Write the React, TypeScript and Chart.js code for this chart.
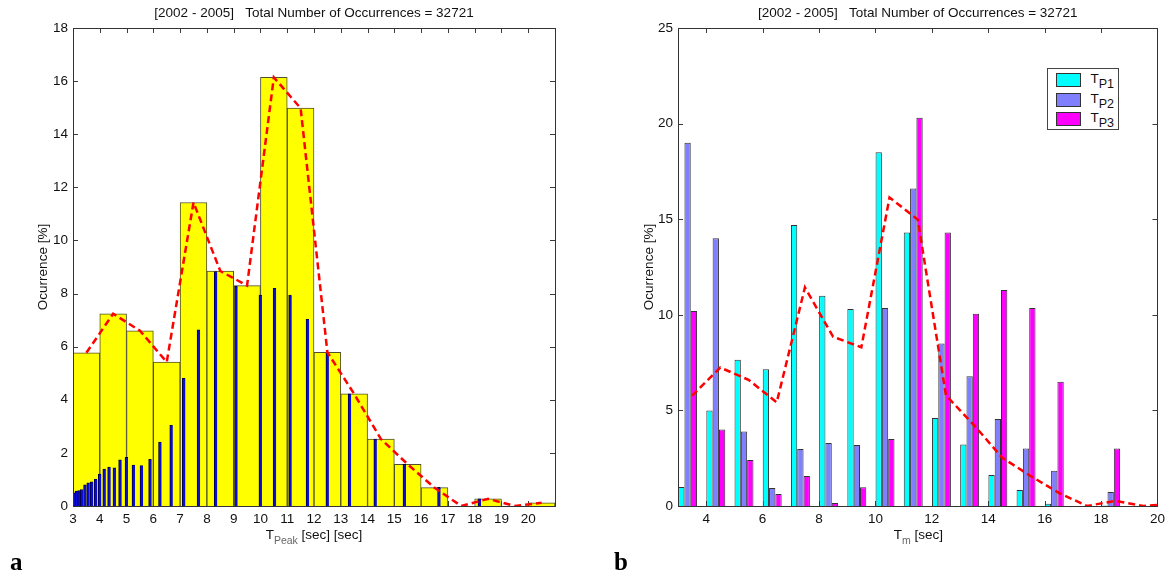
import React, { useEffect, useRef } from 'react';
import { Chart, registerables } from 'chart.js';

Chart.register(...registerables);

// ---------- data ----------
const chartTitle = '[2002 - 2005]   Total Number of Occurrences = 32721';

// panel a: histogram of T_Peak in 1-s bins (bin centres)
const periodBinCenters = [3.5, 4.5, 5.5, 6.5, 7.5, 8.5, 9.5, 10.5, 11.5, 12.5, 13.5, 14.5, 15.5, 16.5, 17.5, 18.5, 19.5, 20.5];
const binOccurrence = [5.77, 7.24, 6.6, 5.42, 11.43, 8.85, 8.3, 16.14, 14.98, 5.79, 4.22, 2.52, 1.57, 0.69, 0.0, 0.27, 0.0, 0.12];

// panel a: occurrence per spectral period (thin blue bars)
const spectralPeriods = [3.03, 3.13, 3.23, 3.33, 3.45, 3.57, 3.7, 3.85, 4.0, 4.17, 4.35, 4.55, 4.76, 5.0, 5.26, 5.56, 5.88, 6.25, 6.67, 7.14, 7.69, 8.33, 9.09, 10.0, 10.53, 11.11, 11.76, 12.5, 13.33, 14.29, 15.38, 16.67, 18.18];
const spectralOccurrence = [0.5, 0.56, 0.58, 0.62, 0.8, 0.87, 0.91, 1.0, 1.2, 1.39, 1.47, 1.44, 1.74, 1.83, 1.54, 1.52, 1.76, 2.41, 3.04, 4.81, 6.63, 8.83, 8.28, 7.94, 8.2, 7.94, 7.03, 5.77, 4.22, 2.52, 1.57, 0.7, 0.27];

const xTicksA = [3, 4, 5, 6, 7, 8, 9, 10, 11, 12, 13, 14, 15, 16, 17, 18, 19, 20];
const yTicksA = [0, 2, 4, 6, 8, 10, 12, 14, 16, 18];

// panel b: grouped bars per T_m bin
const tmBins = [3, 4, 5, 6, 7, 8, 9, 10, 11, 12, 13, 14, 15, 16, 17, 18, 19];
const tp1 = [1.0, 5.0, 7.65, 7.15, 14.7, 11.0, 10.3, 18.5, 14.3, 4.6, 3.22, 1.62, 0.84, 0.12, 0, 0.03, 0];
const tp2 = [19.0, 14.0, 3.9, 0.94, 2.98, 3.29, 3.19, 10.35, 16.6, 8.5, 6.78, 4.55, 3.01, 1.85, 0, 0.73, 0];
const tp3 = [10.2, 4.0, 2.4, 0.63, 1.57, 0.16, 0.98, 3.5, 20.3, 14.3, 10.05, 11.3, 10.35, 6.5, 0, 3.01, 0];
const seriesNames = ['P1', 'P2', 'P3'];

const xTicksB = [4, 6, 8, 10, 12, 14, 16, 18, 20];
const yTicksB = [0, 5, 10, 15, 20, 25];

// ---------- styles ----------
const FONT = '"Liberation Sans", Arial, Helvetica, sans-serif';
const SERIF = '"Liberation Serif", "Times New Roman", serif';
const TXT = '#111111';
const RED = '#ff0000';
const COLORS = ['#00ffff', '#8080ff', '#ff00ff'];
const GROUP_OFFSET = 0.34;
const TICK_LEN = 5;
const FS = 13.5;

const frame = {
  id: 'matlabFrame',
  beforeDatasetsDraw(chart: any) {
    const { ctx, chartArea: a } = chart;
    const xs = chart.scales.x;
    const ys = chart.scales.y;
    ctx.save();
    ctx.strokeStyle = '#3a3a3a';
    ctx.lineWidth = 1;
    ctx.beginPath();
    xs.ticks.forEach((_: any, i: number) => {
      const p = Math.round(xs.getPixelForTick(i)) + 0.5;
      ctx.moveTo(p, a.bottom);
      ctx.lineTo(p, a.bottom - TICK_LEN);
      ctx.moveTo(p, a.top);
      ctx.lineTo(p, a.top + TICK_LEN);
    });
    ys.ticks.forEach((_: any, i: number) => {
      const p = Math.round(ys.getPixelForTick(i)) + 0.5;
      ctx.moveTo(a.left, p);
      ctx.lineTo(a.left + TICK_LEN, p);
      ctx.moveTo(a.right, p);
      ctx.lineTo(a.right - TICK_LEN, p);
    });
    ctx.stroke();
    ctx.restore();
  },
  afterDatasetsDraw(chart: any) {
    const { ctx, chartArea: a } = chart;
    ctx.save();
    ctx.strokeStyle = '#333333';
    ctx.lineWidth = 1;
    ctx.strokeRect(Math.round(a.left) + 0.5, Math.round(a.top) + 0.5, Math.round(a.right - a.left), Math.round(a.bottom - a.top));
    ctx.restore();
  },
};

const tickFont = { family: FONT, size: FS };

function baseOptions(opts: { padRight: number; yWidth: number; yTitlePad: number; xMin: number; xMax: number; xTicks: number[]; yMax: number; yTicks: number[] }) {
  return {
    responsive: false,
    animation: false as const,
    layout: { padding: { left: 0, right: opts.padRight, top: 0, bottom: 0 } },
    plugins: {
      legend: { display: false },
      tooltip: { enabled: false },
      title: {
        display: true,
        text: chartTitle,
        fullSize: false,
        color: TXT,
        font: { family: FONT, size: FS, weight: 'normal' as const, lineHeight: 1.2 },
        padding: { top: 5.5, bottom: 6.3 },
      },
    },
    scales: {
      x: {
        type: 'linear' as const,
        offset: false,
        min: opts.xMin,
        max: opts.xMax,
        afterBuildTicks: (s: any) => {
          s.ticks = opts.xTicks.map((v) => ({ value: v }));
        },
        afterFit: (s: any) => {
          s.height = 69;
        },
        grid: { display: false, drawTicks: false, offset: false },
        border: { display: false },
        ticks: { font: tickFont, color: TXT, padding: 5, maxRotation: 0, autoSkip: false },
      },
      y: {
        type: 'linear' as const,
        min: 0,
        max: opts.yMax,
        afterBuildTicks: (s: any) => {
          s.ticks = opts.yTicks.map((v) => ({ value: v }));
        },
        afterFit: (s: any) => {
          s.width = opts.yWidth;
        },
        grid: { display: false, drawTicks: false },
        border: { display: false },
        ticks: { font: tickFont, color: TXT, padding: 5 },
        title: {
          display: true,
          text: 'Ocurrence [%]',
          color: TXT,
          font: { family: FONT, size: FS, lineHeight: 1.2 },
          padding: { top: opts.yTitlePad, bottom: 0 },
        },
      },
    },
  };
}

function configA(): any {
  const options: any = baseOptions({ padRight: 30, yWidth: 73, yTitlePad: 35, xMin: 3, xMax: 21, xTicks: xTicksA, yMax: 18, yTicks: yTicksA });
  options.scales.xb = { type: 'linear', min: 3, max: 21, display: false, offset: false, grid: { offset: false } };
  return {
    type: 'bar',
    data: {
      datasets: [
        {
          type: 'line',
          data: periodBinCenters.map((x, i) => ({ x, y: binOccurrence[i] })),
          xAxisID: 'x',
          yAxisID: 'y',
          borderColor: RED,
          borderWidth: 2.5,
          borderDash: [7, 4],
          pointRadius: 0,
          fill: false,
          tension: 0,
          order: 1,
        },
        {
          type: 'bar',
          data: spectralPeriods.map((x, i) => ({ x, y: spectralOccurrence[i] })),
          xAxisID: 'xb',
          yAxisID: 'y',
          backgroundColor: '#0c0cd8',
          borderColor: '#00004a',
          borderWidth: { left: 1, top: 1, right: 0, bottom: 0 },
          borderSkipped: false,
          barThickness: 3,
          grouped: false,
          order: 2,
        },
        {
          type: 'bar',
          data: periodBinCenters.map((x, i) => ({ x, y: binOccurrence[i] })),
          xAxisID: 'x',
          yAxisID: 'y',
          backgroundColor: '#ffff00',
          borderColor: '#50502e',
          borderWidth: 1,
          borderSkipped: 'start',
          grouped: false,
          categoryPercentage: 1,
          barPercentage: 1,
          order: 3,
        },
      ],
    },
    options,
    plugins: [frame],
  };
}

function configB(): any {
  const options: any = baseOptions({ padRight: 11, yWidth: 93, yTitlePad: 56, xMin: 3, xMax: 20, xTicks: xTicksB, yMax: 25, yTicks: yTicksB });
  const series = [tp1, tp2, tp3];
  return {
    type: 'bar',
    data: {
      datasets: [
        {
          type: 'line',
          data: periodBinCenters.map((x, i) => ({ x, y: binOccurrence[i] })),
          xAxisID: 'x',
          yAxisID: 'y',
          borderColor: RED,
          borderWidth: 2.5,
          borderDash: [7, 4],
          pointRadius: 0,
          fill: false,
          tension: 0,
          order: 1,
        },
        ...series.map((vals, k) => ({
          type: 'bar',
          label: 'T' + seriesNames[k],
          data: tmBins.map((b, i) => ({ x: b + GROUP_OFFSET, y: vals[i] })),
          xAxisID: 'x',
          yAxisID: 'y',
          backgroundColor: COLORS[k],
          borderColor: '#333333',
          borderWidth: 1,
          borderSkipped: 'start',
          categoryPercentage: 0.672,
          barPercentage: 1,
          order: 2,
        })),
      ],
    },
    options,
    plugins: [frame],
  };
}

function ChartCanvas({ make, left }: { make: () => any; left: number }) {
  const ref = useRef<HTMLCanvasElement | null>(null);
  useEffect(() => {
    if (!ref.current) return;
    const chart = new Chart(ref.current, make());
    return () => chart.destroy();
  }, []);
  return (
    <canvas
      ref={ref}
      width={585}
      height={575}
      style={{ position: 'absolute', left, top: 0, width: 585, height: 575, display: 'block' }}
    />
  );
}

const xTitleStyle = (left: number, width: number): React.CSSProperties => ({
  position: 'absolute',
  left,
  width,
  top: 527,
  textAlign: 'center',
  fontFamily: FONT,
  fontSize: FS,
  lineHeight: '16px',
  color: TXT,
  whiteSpace: 'pre',
});

const subStyle: React.CSSProperties = { fontSize: 10.5, position: 'relative', top: 4.5, color: '#666666' };

export default function App() {
  return (
    <div style={{ position: 'fixed', left: 0, top: 0, width: 1170, height: 575, background: '#ffffff', overflow: 'hidden' }}>
      <ChartCanvas make={configA} left={0} />
      <ChartCanvas make={configB} left={585} />

      <div style={xTitleStyle(73, 482)}>
        T<span style={subStyle}>Peak</span> [sec] [sec]
      </div>
      <div style={xTitleStyle(678, 481)}>
        T<span style={subStyle}>m</span> [sec]
      </div>

      {/* legend */}
      <div
        style={{
          position: 'absolute',
          left: 1047,
          top: 68,
          width: 72,
          height: 62,
          boxSizing: 'border-box',
          border: '1px solid #444444',
          background: '#ffffff',
          fontFamily: FONT,
          color: TXT,
        }}
      >
        {seriesNames.map((n, i) => (
          <React.Fragment key={n}>
            <div
              style={{
                position: 'absolute',
                left: 8,
                top: 4 + i * 19.5,
                width: 25,
                height: 14,
                boxSizing: 'border-box',
                border: '1px solid #333333',
                background: COLORS[i],
              }}
            />
            <div style={{ position: 'absolute', left: 42.5, top: 2 + i * 19.5, fontSize: FS, lineHeight: '16px', whiteSpace: 'pre' }}>
              T<span style={{ fontSize: 12.5, position: 'relative', top: 5 }}>{n}</span>
            </div>
          </React.Fragment>
        ))}
      </div>

      <div style={{ position: 'absolute', left: 10, top: 549, fontFamily: SERIF, fontWeight: 'bold', fontSize: 25, lineHeight: '25px', color: '#000' }}>a</div>
      <div style={{ position: 'absolute', left: 614, top: 549, fontFamily: SERIF, fontWeight: 'bold', fontSize: 25, lineHeight: '25px', color: '#000' }}>b</div>
    </div>
  );
}
